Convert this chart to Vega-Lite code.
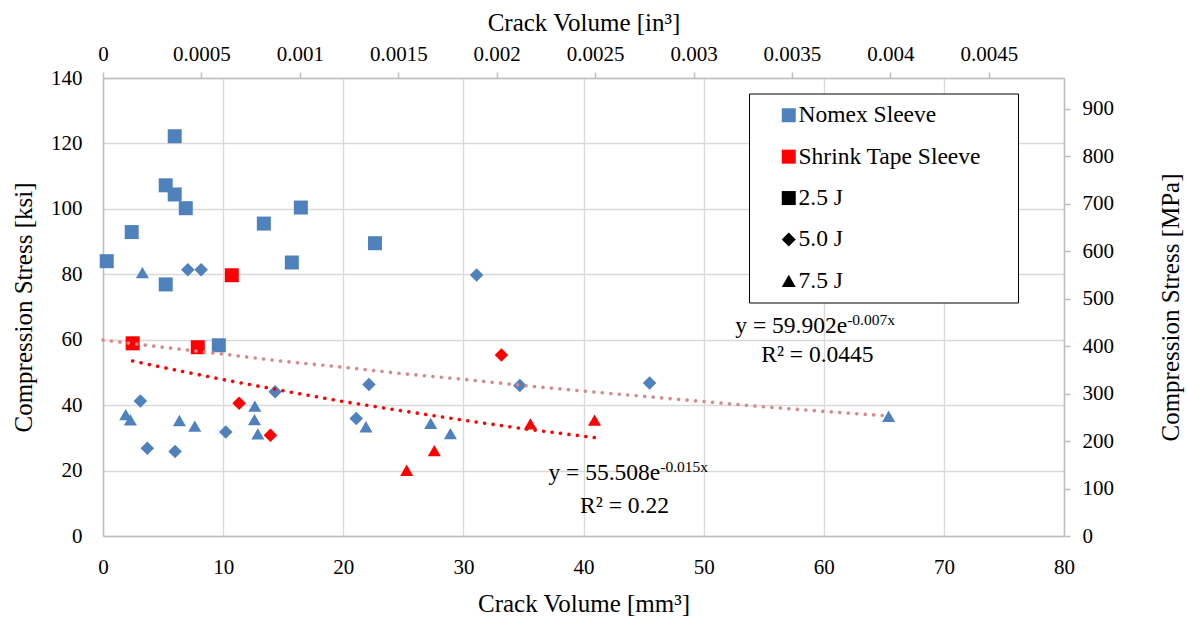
{
  "$schema": "https://vega.github.io/schema/vega-lite/v6.json",
  "width": 961,
  "height": 458,
  "autosize": {"type": "none"},
  "padding": {"left": 103, "top": 78, "right": 123, "bottom": 82},
  "background": "white",
  "config": {
    "font": "Liberation Serif",
    "view": {"stroke": null},
    "axis": {
      "labelFont": "Liberation Serif",
      "titleFont": "Liberation Serif",
      "labelColor": "black",
      "titleColor": "black",
      "titleFontWeight": "normal",
      "labelFontSize": 21,
      "titleFontSize": 25,
      "domainColor": "#bfbfbf",
      "domainWidth": 1.5,
      "tickColor": "#bfbfbf",
      "tickWidth": 1.5,
      "gridColor": "#d9d9d9",
      "gridWidth": 1.3,
      "labelFlush": false,
      "labelOverlap": false
    },
    "legend": {
      "labelFont": "Liberation Serif",
      "titleFont": "Liberation Serif"
    }
  },
  "layer": [
    {
      "layer": [
        {
          "data": {
            "values": [
              {"vol": 5.97, "stress": 122.2, "sleeve": "Nomex Sleeve", "energy": "2.5 J"},
              {"vol": 5.22, "stress": 107.2, "sleeve": "Nomex Sleeve", "energy": "2.5 J"},
              {"vol": 5.97, "stress": 104.4, "sleeve": "Nomex Sleeve", "energy": "2.5 J"},
              {"vol": 6.89, "stress": 100.2, "sleeve": "Nomex Sleeve", "energy": "2.5 J"},
              {"vol": 2.39, "stress": 92.9, "sleeve": "Nomex Sleeve", "energy": "2.5 J"},
              {"vol": 0.31, "stress": 84.0, "sleeve": "Nomex Sleeve", "energy": "2.5 J"},
              {"vol": 5.22, "stress": 76.9, "sleeve": "Nomex Sleeve", "energy": "2.5 J"},
              {"vol": 13.39, "stress": 95.5, "sleeve": "Nomex Sleeve", "energy": "2.5 J"},
              {"vol": 16.47, "stress": 100.4, "sleeve": "Nomex Sleeve", "energy": "2.5 J"},
              {"vol": 15.72, "stress": 83.6, "sleeve": "Nomex Sleeve", "energy": "2.5 J"},
              {"vol": 22.64, "stress": 89.5, "sleeve": "Nomex Sleeve", "energy": "2.5 J"},
              {"vol": 9.64, "stress": 58.3, "sleeve": "Nomex Sleeve", "energy": "2.5 J"},
              {"vol": 2.47, "stress": 58.9, "sleeve": "Shrink Tape Sleeve", "energy": "2.5 J"},
              {"vol": 7.89, "stress": 57.7, "sleeve": "Shrink Tape Sleeve", "energy": "2.5 J"},
              {"vol": 10.72, "stress": 79.7, "sleeve": "Shrink Tape Sleeve", "energy": "2.5 J"},
              {"vol": 7.06, "stress": 81.4, "sleeve": "Nomex Sleeve", "energy": "5.0 J"},
              {"vol": 8.17, "stress": 81.4, "sleeve": "Nomex Sleeve", "energy": "5.0 J"},
              {"vol": 31.1, "stress": 79.8, "sleeve": "Nomex Sleeve", "energy": "5.0 J"},
              {"vol": 3.11, "stress": 41.3, "sleeve": "Nomex Sleeve", "energy": "5.0 J"},
              {"vol": 3.69, "stress": 26.8, "sleeve": "Nomex Sleeve", "energy": "5.0 J"},
              {"vol": 6.0, "stress": 25.8, "sleeve": "Nomex Sleeve", "energy": "5.0 J"},
              {"vol": 10.22, "stress": 31.8, "sleeve": "Nomex Sleeve", "energy": "5.0 J"},
              {"vol": 14.33, "stress": 44.1, "sleeve": "Nomex Sleeve", "energy": "5.0 J"},
              {"vol": 22.14, "stress": 46.3, "sleeve": "Nomex Sleeve", "energy": "5.0 J"},
              {"vol": 21.08, "stress": 35.9, "sleeve": "Nomex Sleeve", "energy": "5.0 J"},
              {"vol": 34.7, "stress": 46.0, "sleeve": "Nomex Sleeve", "energy": "5.0 J"},
              {"vol": 45.5, "stress": 46.8, "sleeve": "Nomex Sleeve", "energy": "5.0 J"},
              {"vol": 11.33, "stress": 40.6, "sleeve": "Shrink Tape Sleeve", "energy": "5.0 J"},
              {"vol": 13.94, "stress": 30.8, "sleeve": "Shrink Tape Sleeve", "energy": "5.0 J"},
              {"vol": 33.17, "stress": 55.3, "sleeve": "Shrink Tape Sleeve", "energy": "5.0 J"},
              {"vol": 3.28, "stress": 80.5, "sleeve": "Nomex Sleeve", "energy": "7.5 J"},
              {"vol": 1.89, "stress": 37.1, "sleeve": "Nomex Sleeve", "energy": "7.5 J"},
              {"vol": 2.28, "stress": 35.5, "sleeve": "Nomex Sleeve", "energy": "7.5 J"},
              {"vol": 6.36, "stress": 35.3, "sleeve": "Nomex Sleeve", "energy": "7.5 J"},
              {"vol": 7.64, "stress": 33.6, "sleeve": "Nomex Sleeve", "energy": "7.5 J"},
              {"vol": 12.64, "stress": 39.7, "sleeve": "Nomex Sleeve", "energy": "7.5 J"},
              {"vol": 12.61, "stress": 35.6, "sleeve": "Nomex Sleeve", "energy": "7.5 J"},
              {"vol": 12.89, "stress": 31.2, "sleeve": "Nomex Sleeve", "energy": "7.5 J"},
              {"vol": 21.89, "stress": 33.4, "sleeve": "Nomex Sleeve", "energy": "7.5 J"},
              {"vol": 27.28, "stress": 34.4, "sleeve": "Nomex Sleeve", "energy": "7.5 J"},
              {"vol": 28.92, "stress": 31.3, "sleeve": "Nomex Sleeve", "energy": "7.5 J"},
              {"vol": 65.4, "stress": 36.6, "sleeve": "Nomex Sleeve", "energy": "7.5 J"},
              {"vol": 25.28, "stress": 20.1, "sleeve": "Shrink Tape Sleeve", "energy": "7.5 J"},
              {"vol": 27.58, "stress": 26.1, "sleeve": "Shrink Tape Sleeve", "energy": "7.5 J"},
              {"vol": 35.58, "stress": 34.3, "sleeve": "Shrink Tape Sleeve", "energy": "7.5 J"},
              {"vol": 40.92, "stress": 35.4, "sleeve": "Shrink Tape Sleeve", "energy": "7.5 J"}
            ]
          },
          "mark": {"type": "point", "filled": true, "opacity": 1, "strokeWidth": 0},
          "encoding": {
            "x": {
              "field": "vol", "type": "quantitative",
              "scale": {"domain": [0, 80], "nice": false, "zero": false},
              "axis": {
                "orient": "bottom",
                "title": "Crack Volume [mm³]",
                "values": [0, 10, 20, 30, 40, 50, 60, 70, 80],
                "grid": true,
                "ticks": false,
                "labelPadding": 20,
                "titlePadding": 14
              }
            },
            "y": {
              "field": "stress", "type": "quantitative",
              "scale": {"domain": [0, 140], "nice": false, "zero": false},
              "axis": {
                "orient": "left",
                "title": "Compression Stress [ksi]",
                "values": [0, 20, 40, 60, 80, 100, 120, 140],
                "grid": true,
                "ticks": false,
                "labelPadding": 21,
                "titlePadding": 14
              }
            },
            "color": {
              "field": "sleeve", "type": "nominal",
              "scale": {"domain": ["Nomex Sleeve", "Shrink Tape Sleeve"], "range": ["#4f81bd", "#ff0000"]},
              "legend": null
            },
            "shape": {
              "field": "energy", "type": "nominal",
              "scale": {"domain": ["2.5 J", "5.0 J", "7.5 J"], "range": ["square", "diamond", "triangle-up"]},
              "legend": null
            },
            "size": {
              "field": "energy", "type": "ordinal",
              "scale": {"domain": ["2.5 J", "5.0 J", "7.5 J"], "range": [196, 170, 185]},
              "legend": null
            }
          }
        },
        {
          "data": {
            "values": [
              {"vol": 0, "stress": 59.9, "fit": "Nomex"},
              {"vol": 5, "stress": 57.7, "fit": "Nomex"},
              {"vol": 10, "stress": 55.6, "fit": "Nomex"},
              {"vol": 15, "stress": 53.4, "fit": "Nomex"},
              {"vol": 20, "stress": 51.6, "fit": "Nomex"},
              {"vol": 25, "stress": 49.6, "fit": "Nomex"},
              {"vol": 30, "stress": 47.9, "fit": "Nomex"},
              {"vol": 35, "stress": 46.0, "fit": "Nomex"},
              {"vol": 40, "stress": 44.3, "fit": "Nomex"},
              {"vol": 45, "stress": 42.7, "fit": "Nomex"},
              {"vol": 50, "stress": 41.1, "fit": "Nomex"},
              {"vol": 55, "stress": 39.5, "fit": "Nomex"},
              {"vol": 60, "stress": 38.1, "fit": "Nomex"},
              {"vol": 65.4, "stress": 36.7, "fit": "Nomex"},
              {"vol": 2.47, "stress": 53.5, "fit": "Shrink"},
              {"vol": 5, "stress": 51.5, "fit": "Shrink"},
              {"vol": 10, "stress": 47.8, "fit": "Shrink"},
              {"vol": 15, "stress": 44.4, "fit": "Shrink"},
              {"vol": 20, "stress": 41.1, "fit": "Shrink"},
              {"vol": 25, "stress": 38.2, "fit": "Shrink"},
              {"vol": 30, "stress": 35.4, "fit": "Shrink"},
              {"vol": 35, "stress": 32.8, "fit": "Shrink"},
              {"vol": 40.92, "stress": 30.1, "fit": "Shrink"}
            ]
          },
          "mark": {"type": "line", "strokeDash": [0.01, 8.5], "strokeCap": "round", "strokeWidth": 3.6},
          "encoding": {
            "x": {"field": "vol", "type": "quantitative"},
            "y": {"field": "stress", "type": "quantitative"},
            "detail": {"field": "fit", "type": "nominal"},
            "stroke": {
              "field": "fit", "type": "nominal",
              "scale": {"domain": ["Nomex", "Shrink"], "range": ["#d88a88", "#ff0000"]},
              "legend": null
            }
          }
        },
        {
          "data": {
            "values": [
              {"vol": 61.95, "stress": 62.1, "text": "y = 59.902e"},
              {"vol": 46.39, "stress": 17.06, "text": "y = 55.508e"}
            ]
          },
          "mark": {"type": "text", "align": "right", "baseline": "alphabetic", "fontSize": 23.5, "color": "black", "font": "Liberation Serif"},
          "encoding": {
            "x": {"field": "vol", "type": "quantitative"},
            "y": {"field": "stress", "type": "quantitative"},
            "text": {"field": "text"}
          }
        },
        {
          "data": {
            "values": [
              {"vol": 61.95, "stress": 62.1, "text": "-0.007x"},
              {"vol": 46.39, "stress": 17.06, "text": "-0.015x"}
            ]
          },
          "mark": {"type": "text", "align": "left", "baseline": "alphabetic", "fontSize": 15.5, "dy": -8, "color": "black", "font": "Liberation Serif"},
          "encoding": {
            "x": {"field": "vol", "type": "quantitative"},
            "y": {"field": "stress", "type": "quantitative"},
            "text": {"field": "text"}
          }
        },
        {
          "data": {
            "values": [
              {"vol": 59.47, "stress": 53.1, "text": "R² = 0.0445"},
              {"vol": 43.41, "stress": 6.88, "text": "R² = 0.22"}
            ]
          },
          "mark": {"type": "text", "align": "center", "baseline": "alphabetic", "fontSize": 23.5, "color": "black", "font": "Liberation Serif"},
          "encoding": {
            "x": {"field": "vol", "type": "quantitative"},
            "y": {"field": "stress", "type": "quantitative"},
            "text": {"field": "text"}
          }
        }
      ]
    },
    {
      "data": {
        "values": [
          {"key": "Nomex Sleeve"},
          {"key": "Shrink Tape Sleeve"},
          {"key": "2.5 J"},
          {"key": "5.0 J"},
          {"key": "7.5 J"}
        ]
      },
      "mark": {"type": "point", "filled": true, "clip": true, "opacity": 1, "strokeWidth": 0},
      "encoding": {
        "x": {
          "datum": -1, "type": "quantitative",
          "scale": {"domain": [0, 0.0048819], "nice": false, "zero": false},
          "axis": {
            "orient": "top",
            "title": "Crack Volume [in³]",
            "values": [0, 0.0005, 0.001, 0.0015, 0.002, 0.0025, 0.003, 0.0035, 0.004, 0.0045],
            "format": "~g",
            "grid": false,
            "ticks": true,
            "tickSize": 6,
            "labelPadding": 8,
            "titlePadding": 8
          }
        },
        "y": {
          "datum": -1000, "type": "quantitative",
          "scale": {"domain": [0, 965.27], "nice": false, "zero": false},
          "axis": {
            "orient": "right",
            "title": "Compression Stress [MPa]",
            "values": [0, 100, 200, 300, 400, 500, 600, 700, 800, 900],
            "grid": false,
            "ticks": true,
            "tickSize": 6,
            "labelPadding": 12,
            "titleAngle": -90,
            "titleAlign": "center",
            "titleBaseline": "middle",
            "titleX": 106,
            "titleY": 229
          }
        },
        "color": {
          "field": "key", "type": "nominal",
          "scale": {
            "domain": ["Nomex Sleeve", "Shrink Tape Sleeve", "2.5 J", "5.0 J", "7.5 J"],
            "range": ["#4f81bd", "#ff0000", "#000000", "#000000", "#000000"]
          },
          "legend": {
            "orient": "none",
            "legendX": 646,
            "legendY": 15.5,
            "direction": "vertical",
            "title": "\u00a0",
            "titleOrient": "right",
            "titleFontSize": 1,
            "titlePadding": 27,
            "strokeColor": "black",
            "fillColor": "white",
            "padding": 10,
            "symbolOffset": 18,
            "labelOffset": -2,
            "symbolSize": 196,
            "symbolStrokeWidth": 0,
            "labelFontSize": 23.5,
            "labelColor": "black",
            "labelLimit": 400,
            "rowPadding": 16.4
          }
        },
        "shape": {
          "field": "key", "type": "nominal",
          "scale": {
            "domain": ["Nomex Sleeve", "Shrink Tape Sleeve", "2.5 J", "5.0 J", "7.5 J"],
            "range": ["square", "square", "square", "diamond", "triangle-up"]
          }
        }
      }
    }
  ],
  "resolve": {
    "scale": {"x": "independent", "y": "independent", "color": "independent", "shape": "independent"},
    "axis": {"x": "independent", "y": "independent"}
  }
}
